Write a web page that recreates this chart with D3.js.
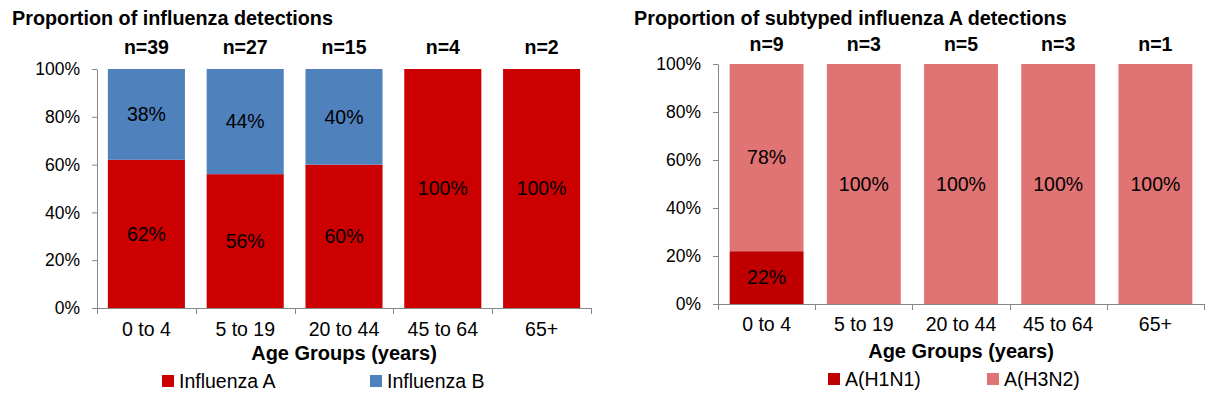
<!DOCTYPE html>
<html>
<head>
<meta charset="utf-8">
<script src="https://d3js.org/d3.v7.min.js"></script>
<style>
  body { margin: 0; background: #fff; }
  svg text { font-family: 'Liberation Sans', Arial, sans-serif; fill: #000; }
  .axis path, .axis line { stroke: #868686; }
</style>
</head>
<body>
<svg id="chart" width="1228" height="394"></svg>
<script>
// categories shared by both panels
var ageGroups = ["0 to 4", "5 to 19", "20 to 44", "45 to 64", "65+"];

// left panel: influenza type (percent)
var fluCounts = ["n=39", "n=27", "n=15", "n=4", "n=2"];
var fluA = [62, 56, 60, 100, 100];
var fluB = [38, 44, 40, 0, 0];

// right panel: subtyped influenza A (percent)
var subCounts = ["n=9", "n=3", "n=5", "n=3", "n=1"];
var h1n1 = [22, 0, 0, 0, 0];
var h3n2 = [78, 100, 100, 100, 100];

var yTicks = [0, 20, 40, 60, 80, 100];

var svg = d3.select("#chart");

function drawPanel(cfg) {
  var g = svg.append("g");

  var x = d3.scaleBand()
    .domain(ageGroups)
    .range([cfg.x0, cfg.x1])
    .paddingInner(cfg.pad)
    .paddingOuter(cfg.pad / 2);

  var y = d3.scaleLinear()
    .domain([0, 100])
    .range([cfg.y0, cfg.y1]);

  var rows = ageGroups.map(function(c, i) {
    var r = { cat: c };
    cfg.series.forEach(function(s) { r[s.key] = s.values[i]; });
    return r;
  });

  var stack = d3.stack().keys(cfg.series.map(function(s) { return s.key; }));
  var layers = stack(rows);

  layers.forEach(function(layer, li) {
    var s = cfg.series[li];
    g.selectAll(null)
      .data(layer)
      .enter()
      .append("rect")
      .attr("x", function(d) { return x(d.data.cat); })
      .attr("y", function(d) { return y(d[1]); })
      .attr("width", x.bandwidth())
      .attr("height", function(d) { return y(d[0]) - y(d[1]); })
      .attr("fill", s.color);

    // percentage labels in the middle of each segment
    g.selectAll(null)
      .data(layer.filter(function(d) { return d[1] - d[0] > 0; }))
      .enter()
      .append("text")
      .attr("x", function(d) { return x(d.data.cat) + x.bandwidth() / 2; })
      .attr("y", function(d) { return (y(d[0]) + y(d[1])) / 2; })
      .attr("dy", "0.35em")
      .attr("text-anchor", "middle")
      .attr("font-size", "19.5px")
      .text(function(d) { return (d[1] - d[0]) + "%"; });
  });

  // y axis
  var yAxis = g.append("g")
    .attr("class", "axis")
    .attr("transform", "translate(" + cfg.x0 + ",0)")
    .call(d3.axisLeft(y)
      .tickValues(yTicks)
      .tickSize(5)
      .tickSizeOuter(0)
      .tickPadding(12)
      .tickFormat(function(d) { return d + "%"; }));
  yAxis.selectAll("text").attr("font-size", "17.5px").attr("fill", "#000");
  yAxis.select(".domain").attr("stroke", "#868686");

  // x axis line with ticks at band boundaries
  var bounds = d3.range(ageGroups.length + 1).map(function(i) {
    return cfg.x0 + i * x.step();
  });
  g.append("line")
    .attr("x1", cfg.x0).attr("x2", cfg.x1)
    .attr("y1", cfg.y0 + 0.5).attr("y2", cfg.y0 + 0.5)
    .attr("stroke", "#868686");
  g.selectAll(null)
    .data(bounds)
    .enter()
    .append("line")
    .attr("x1", function(d) { return Math.round(d) + 0.5; })
    .attr("x2", function(d) { return Math.round(d) + 0.5; })
    .attr("y1", cfg.y0)
    .attr("y2", cfg.y0 + 6)
    .attr("stroke", "#868686");

  // category labels
  g.selectAll(null)
    .data(ageGroups)
    .enter()
    .append("text")
    .attr("x", function(d) { return x(d) + x.bandwidth() / 2; })
    .attr("y", cfg.catY)
    .attr("text-anchor", "middle")
    .attr("font-size", "19.5px")
    .text(function(d) { return d; });

  // n= labels
  g.selectAll(null)
    .data(cfg.counts)
    .enter()
    .append("text")
    .attr("x", function(d, i) { return x(ageGroups[i]) + x.bandwidth() / 2; })
    .attr("y", cfg.nY)
    .attr("text-anchor", "middle")
    .attr("font-size", "19.5px")
    .attr("font-weight", "bold")
    .text(function(d) { return d; });

  // title
  g.append("text")
    .attr("x", cfg.titleX)
    .attr("y", 25)
    .attr("font-size", "19.8px")
    .attr("font-weight", "bold")
    .text(cfg.title);

  // axis title
  g.append("text")
    .attr("x", (cfg.x0 + cfg.x1) / 2)
    .attr("y", cfg.axisTitleY)
    .attr("text-anchor", "middle")
    .attr("font-size", "20px")
    .attr("font-weight", "bold")
    .text("Age Groups (years)");

  // legend
  cfg.series.forEach(function(s, i) {
    var lx = cfg.legendX[i];
    g.append("rect")
      .attr("x", lx)
      .attr("y", cfg.legendY - 13)
      .attr("width", 12)
      .attr("height", 12)
      .attr("fill", s.color);
    g.append("text")
      .attr("x", lx + 17)
      .attr("y", cfg.legendY)
      .attr("font-size", "19.5px")
      .text(s.key);
  });
}

drawPanel({
  title: "Proportion of influenza detections",
  titleX: 12,
  x0: 97, x1: 591, y0: 308, y1: 69, pad: 0.22,
  counts: fluCounts,
  nY: 54, catY: 336, axisTitleY: 360, legendY: 388,
  legendX: [162, 370],
  series: [
    { key: "Influenza A", values: fluA, color: "#CC0000" },
    { key: "Influenza B", values: fluB, color: "#4F81BD" }
  ]
});

drawPanel({
  title: "Proportion of subtyped influenza A detections",
  titleX: 634,
  x0: 718, x1: 1204, y0: 304, y1: 64, pad: 0.24,
  counts: subCounts,
  nY: 51, catY: 331, axisTitleY: 358, legendY: 386,
  legendX: [828, 987],
  series: [
    { key: "A(H1N1)", values: h1n1, color: "#C00000" },
    { key: "A(H3N2)", values: h3n2, color: "#E07373" }
  ]
});
</script>
</body>
</html>
